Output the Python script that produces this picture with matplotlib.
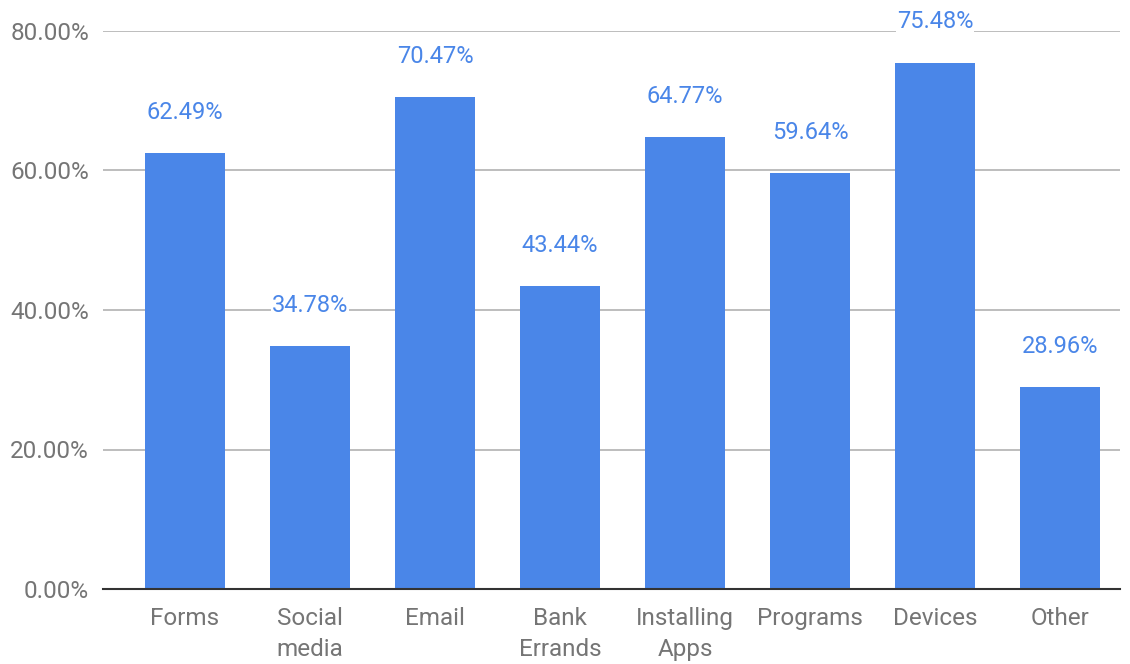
import matplotlib.pyplot as plt
import numpy as np

categories = ["Forms", "Social\nmedia", "Email", "Bank\nErrands", "Installing\nApps",
              "Programs", "Devices", "Other"]
values = [62.49, 34.78, 70.47, 43.44, 64.77, 59.64, 75.48, 28.96]
yticks = [0, 20, 40, 60, 80]

plt.rcParams['font.family'] = ['Roboto', 'DejaVu Sans']

bar_color = '#4a86e8'
text_gray = '#757575'

fig = plt.figure(figsize=(11.3, 6.64), dpi=100)
ax = fig.add_axes([103 / 1130, 75 / 664, (1120 - 103) / 1130, (589 - 31) / 664])

x = np.arange(len(categories))
ax.bar(x, values, width=0.64, color=bar_color, zorder=2)

# value labels above each bar, on a white box so the gridline is hidden
for xi, v in zip(x, values):
    ax.annotate(f"{v:.2f}%", (xi, v), xytext=(0, 21), textcoords='offset points',
                ha='center', va='bottom', fontsize=17, color=bar_color, zorder=4,
                bbox=dict(boxstyle='square,pad=0.05', fc='white', ec='none'))

ax.set_xlim(-0.656, len(categories) - 0.52)
ax.set_ylim(0, 80)
ax.set_yticks(yticks)
ax.set_yticklabels([f"{t:.2f}%" for t in yticks])
ax.set_xticks(x)
ax.set_xticklabels(categories, linespacing=1.45)

ax.grid(axis='y', color='#b7b7b7', linewidth=1.3, zorder=0)
ax.set_axisbelow(True)
for s in ['top', 'right', 'left']:
    ax.spines[s].set_visible(False)
ax.spines['bottom'].set_color('#333333')
ax.spines['bottom'].set_linewidth(1.5)
ax.spines['bottom'].set_zorder(3)

ax.tick_params(axis='both', length=0, labelsize=17.5, labelcolor=text_gray)
ax.tick_params(axis='x', pad=13)
ax.tick_params(axis='y', pad=10)

fig.savefig('out.png', dpi=100)
